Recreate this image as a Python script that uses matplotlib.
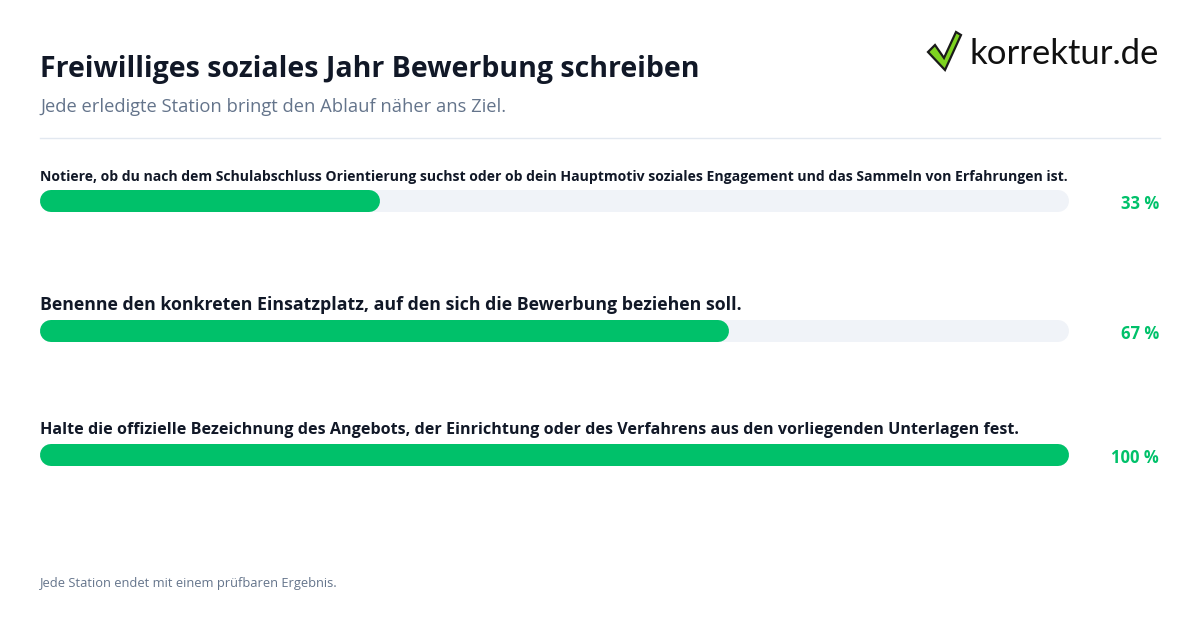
import numpy as np
import matplotlib
matplotlib.use('Agg')
import matplotlib.pyplot as plt
from matplotlib.patches import Polygon

# Daten
steps = [
    'Notiere, ob du nach dem Schulabschluss Orientierung suchst oder ob dein Hauptmotiv soziales Engagement und das Sammeln von Erfahrungen ist.',
    'Benenne den konkreten Einsatzplatz, auf den sich die Bewerbung beziehen soll.',
    'Halte die offizielle Bezeichnung des Angebots, der Einrichtung oder des Verfahrens aus den vorliegenden Unterlagen fest.',
]
progress = [33, 67, 100]
label_sizes = [10.1, 12.8, 11.6]

title = 'Freiwilliges soziales Jahr Bewerbung schreiben'
subtitle = 'Jede erledigte Station bringt den Ablauf näher ans Ziel.'
footer = 'Jede Station endet mit einem prüfbaren Ergebnis.'

GREEN = '#00c16a'
TRACK = '#f0f3f8'
DARK = '#111827'
GREY = '#64748b'

plt.rcParams['font.family'] = ['Open Sans', 'DejaVu Sans']

W, H = 1200, 630
fig = plt.figure(figsize=(W / 100, H / 100), dpi=100)
fig.patch.set_facecolor('white')

# Hintergrund-Achse in Pixelkoordinaten
bg = fig.add_axes([0, 0, 1, 1])
bg.set_xlim(0, W)
bg.set_ylim(H, 0)
bg.axis('off')

bg.text(40, 70, title, fontsize=20.5, fontweight='bold', color=DARK, va='center', ha='left')
bg.text(40, 107, subtitle, fontsize=13.2, color=GREY, va='center', ha='left')
bg.plot([40, 1160], [138, 138], color='#e2e8f0', lw=1)
bg.text(40, 584, footer, fontsize=9.3, color=GREY, va='center', ha='left')

# Logo
check = Polygon([(928, 52), (935, 45), (944, 58), (956, 32), (961, 35), (945, 70)],
                closed=True, facecolor='#7ed321', edgecolor='#1a1a1a', lw=1.6)
bg.add_patch(check)
bg.text(970, 54, 'korrektur.de', fontsize=24.9, color='#111111', va='center', ha='left',
        family=['Lato', 'DejaVu Sans'])

# Balken-Achse
left_px, right_px = 40, 1069
ax = fig.add_axes([left_px / W, 0, (right_px - left_px) / W, 1])
ax.set_xlim(0, 100)
ax.set_ylim(H, 0)
ax.axis('off')

bar_y = [201, 331, 455]
label_y = [177, 305, 430]
bar_h_px = 22
lw_pt = bar_h_px * 72 / 100
r = (bar_h_px / 2) / ((right_px - left_px) / 100)

for i, (s, p) in enumerate(zip(steps, progress)):
    y = bar_y[i]
    ax.plot([r, 100 - r], [y, y], color=TRACK, lw=lw_pt, solid_capstyle='round')
    ax.plot([r, p - r], [y, y], color=GREEN, lw=lw_pt, solid_capstyle='round')
    bg.text(40, label_y[i], s, fontsize=label_sizes[i], fontweight='bold', color=DARK,
            va='center', ha='left')
    bg.text(1159, y + 3, f'{p} %', fontsize=12, fontweight='bold', color=GREEN,
            va='center', ha='right')

fig.savefig('out.png', dpi=100, facecolor='white')
